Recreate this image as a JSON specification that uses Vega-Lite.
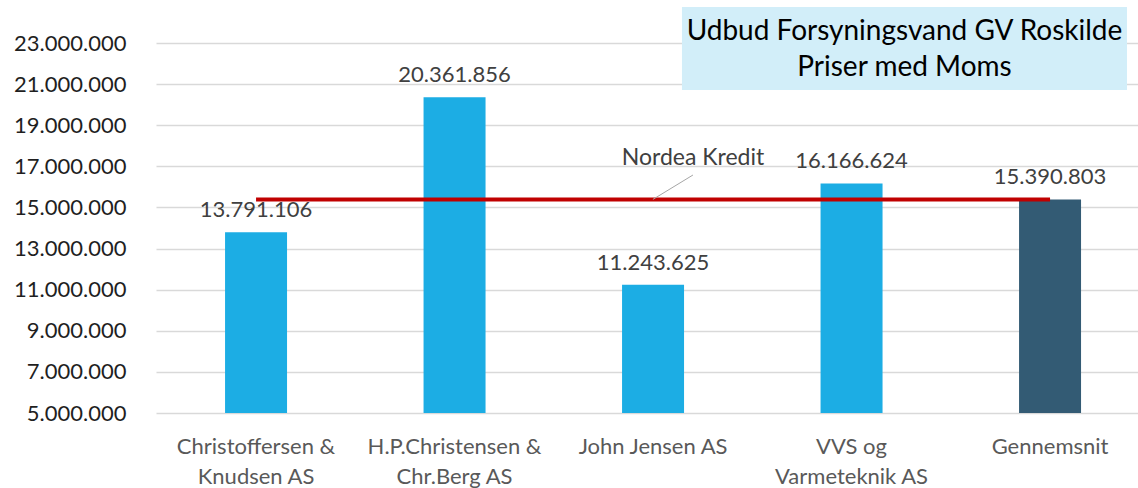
{
  "$schema": "https://vega.github.io/schema/vega-lite/v6.json",
  "autosize": {"type": "none"},
  "width": 982,
  "height": 370,
  "padding": {"left": 156, "top": 43, "right": 0, "bottom": 75},
  "background": "white",
  "config": {
    "font": "Lato",
    "view": {"stroke": null},
    "locale": {"number": {"decimal": ",", "thousands": ".", "grouping": [3], "currency": ["", " kr."]}}
  },
  "data": {
    "values": [
      {"firma": "Christoffersen &\nKnudsen AS", "pris": 13791106, "type": "Tilbud", "nordea": 15390803},
      {"firma": "H.P.Christensen &\nChr.Berg AS", "pris": 20361856, "type": "Tilbud", "nordea": 15390803},
      {"firma": "John Jensen AS", "pris": 11243625, "type": "Tilbud", "nordea": 15390803},
      {"firma": "VVS og\nVarmeteknik AS", "pris": 16166624, "type": "Tilbud", "nordea": 15390803},
      {"firma": "Gennemsnit", "pris": 15390803, "type": "Gennemsnit", "nordea": 15390803}
    ]
  },
  "layer": [
    {
      "encoding": {
        "x": {
          "field": "firma", "type": "nominal", "sort": null,
          "scale": {"paddingInner": 0.6877, "paddingOuter": 0.3174, "align": 0.548},
          "axis": {
            "title": null, "domain": false, "ticks": false, "labelAngle": 0,
            "labelFontSize": 22, "labelColor": "#595959", "labelPadding": 23,
            "labelLineHeight": 30, "labelExpr": "split(datum.value, '\\n')", "labelLimit": 300
          }
        }
      },
      "layer": [
        {
          "mark": {"type": "bar"},
          "encoding": {
            "y": {
              "field": "pris", "type": "quantitative",
              "scale": {"domain": [5000000, 23000000], "zero": false, "nice": false},
              "axis": {
                "title": null, "domain": false, "ticks": false,
                "values": [5000000, 7000000, 9000000, 11000000, 13000000, 15000000, 17000000, 19000000, 21000000, 23000000],
                "format": ",d", "labelFontSize": 22, "labelColor": "#1f1f1f", "labelPadding": 30,
                "gridColor": "#D9D9D9", "gridWidth": 1.3
              }
            },
            "y2": {"datum": 5000000},
            "color": {
              "field": "type", "type": "nominal",
              "scale": {"domain": ["Tilbud", "Gennemsnit"], "range": ["#1CADE4", "#335B74"]},
              "legend": null
            }
          }
        },
        {
          "mark": {"type": "text", "baseline": "alphabetic", "dy": -15, "fontSize": 22, "color": "#404040"},
          "encoding": {
            "y": {"field": "pris", "type": "quantitative"},
            "text": {"field": "pris", "type": "quantitative", "format": ",d"}
          }
        },
        {
          "mark": {"type": "line", "color": "#C00000", "strokeWidth": 4},
          "encoding": {
            "y": {"field": "nordea", "type": "quantitative"}
          }
        }
      ]
    },
    {
      "data": {"values": [{"t": "Udbud Forsyningsvand GV Roskilde\nPriser med Moms"}]},
      "layer": [
        {
          "mark": {"type": "rect", "color": "#D2EEF9"},
          "encoding": {
            "x": {"datum": 0.5356, "type": "quantitative", "scale": {"domain": [0, 1]}, "axis": null},
            "x2": {"datum": 0.9888},
            "y": {"datum": 24751000, "type": "quantitative"},
            "y2": {"datum": 20714000}
          }
        },
        {
          "mark": {"type": "text", "baseline": "middle", "align": "center", "fontSize": 28, "color": "#000000", "lineBreak": "\n", "lineHeight": 36},
          "encoding": {
            "x": {"datum": 0.7622, "type": "quantitative", "scale": {"domain": [0, 1]}, "axis": null},
            "y": {"datum": 23535000, "type": "quantitative"},
            "text": {"field": "t"}
          }
        }
      ]
    },
    {
      "data": {"values": [{"t": "Nordea Kredit"}]},
      "layer": [
        {
          "mark": {"type": "rule", "color": "#A6A6A6", "strokeWidth": 1},
          "encoding": {
            "x": {"datum": 0.506, "type": "quantitative", "scale": {"domain": [0, 1]}, "axis": null},
            "x2": {"datum": 0.5468},
            "y": {"datum": 15390803, "type": "quantitative"},
            "y2": {"datum": 16578000}
          }
        },
        {
          "mark": {"type": "text", "baseline": "middle", "align": "center", "fontSize": 23, "color": "#404040"},
          "encoding": {
            "x": {"datum": 0.5468, "type": "quantitative", "scale": {"domain": [0, 1]}, "axis": null},
            "y": {"datum": 17405000, "type": "quantitative"},
            "text": {"field": "t"}
          }
        }
      ]
    }
  ],
  "resolve": {"scale": {"x": "independent"}}
}
